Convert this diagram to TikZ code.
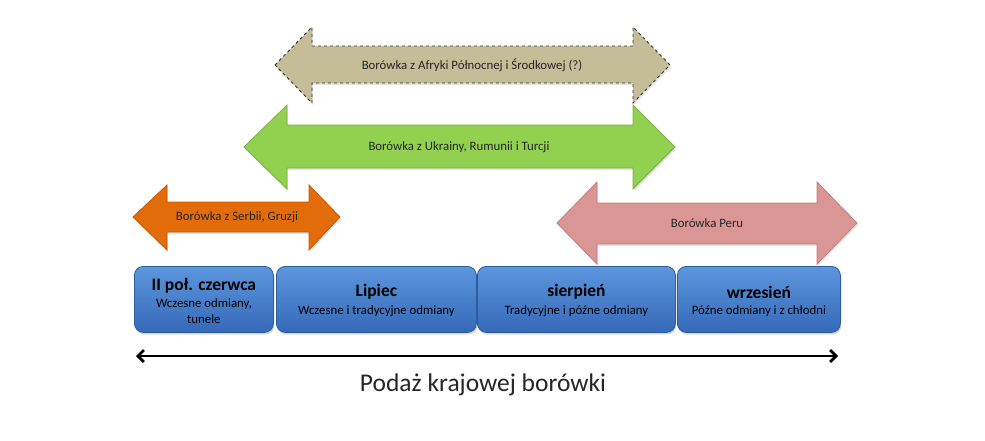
\documentclass[tikz,border=0pt]{standalone}
\usepackage{fontspec}
\setmainfont{Carlito}
\usetikzlibrary{arrows.meta,shadows}
\definecolor{tanfill}{HTML}{C4BD97}
\definecolor{greenfill}{HTML}{92D050}
\definecolor{greenline}{HTML}{7FB048}
\definecolor{orangefill}{HTML}{E36C0A}
\definecolor{orangeline}{HTML}{C55A08}
\definecolor{pinkfill}{HTML}{DA9694}
\definecolor{pinkline}{HTML}{C47F7D}
\definecolor{boxtop}{HTML}{5C96DD}
\definecolor{boxbot}{HTML}{3569B8}
\definecolor{boxline}{HTML}{2B5C9E}
\definecolor{txt}{HTML}{262626}
\begin{document}
\begin{tikzpicture}[x=1pt,y=-1pt,
  lbl/.style={font=\fontsize{12.8}{15}\selectfont, text=txt, inner sep=0pt},
  arrshadow/.style={drop shadow={shadow xshift=1pt, shadow yshift=-2pt, opacity=0.2}},
  month/.style={draw=boxline, line width=0.8pt, rounded corners=9pt,
    top color=boxtop, bottom color=boxbot, minimum height=66pt,
    drop shadow={shadow xshift=1pt, shadow yshift=-2pt, opacity=0.35},
    anchor=north west, inner sep=0pt},
  mtitle/.style={font=\bfseries\fontsize{17.5}{20}\selectfont, text=black, inner sep=0pt},
  msub/.style={font=\fontsize{12.8}{16}\selectfont, text=black, inner sep=0pt, align=center}]
\useasboundingbox (0,0) rectangle (985,440);
\fill[white] (0,0) rectangle (985,440);
% tan arrow
\filldraw[fill=tanfill, draw=black!80, dashed, line width=0.9pt, arrshadow]
  (275,65) -- (312,27) -- (312,46) -- (633,46) -- (633,27) -- (670,65) -- (633,103)
  -- (633,83) -- (312,83) -- (312,103) -- cycle;
\node[lbl] (afr) at (472,65) {Borówka z Afryki Północnej i Środkowej (?)};
% green arrow
\filldraw[fill=greenfill, draw=greenline, line width=0.8pt, arrshadow]
  (244,147) -- (287,105) -- (287,125) -- (633,125) -- (633,105) -- (675,147) -- (633,189)
  -- (633,168) -- (287,168) -- (287,189) -- cycle;
\node[lbl] (ukr) at (459,147) {Borówka z Ukrainy, Rumunii i Turcji};
% orange arrow
\filldraw[fill=orangefill, draw=orangeline, line width=0.8pt, arrshadow]
  (133,217) -- (167,185) -- (167,202) -- (309,202) -- (309,185) -- (340,217) -- (309,250)
  -- (309,232) -- (167,232) -- (167,250) -- cycle;
\node[lbl] (ser) at (237,217) {Borówka z Serbii, Gruzji};
% pink arrow
\filldraw[fill=pinkfill, draw=pinkline, line width=0.8pt, arrshadow]
  (557,223) -- (597,182) -- (597,203) -- (817,203) -- (817,182) -- (857,223) -- (817,264)
  -- (817,244) -- (597,244) -- (597,264) -- cycle;
\node[lbl] (per) at (707,223) {Borówka Peru};
% month boxes
\node[month, minimum width=139pt] (m1) at (134,266) {};
\node[month, minimum width=200pt] (m2) at (276,266) {};
\node[month, minimum width=198pt] (m3) at (477,266) {};
\node[month, minimum width=163pt] (m4) at (677,266) {};
\node[mtitle] (t1) at ([yshift=-20pt]m1.north) {II poł. czerwca};
\node[msub] (s1) at ([yshift=-45pt]m1.north) {Wczesne odmiany,\\tunele};
\node[mtitle] (t2) at ([yshift=-26pt]m2.north) {Lipiec};
\node[msub] (s2) at ([yshift=-45pt]m2.north) {Wczesne i tradycyjne odmiany};
\node[mtitle] (t3) at ([yshift=-26pt]m3.north) {sierpień};
\node[msub] (s3) at ([yshift=-45pt]m3.north) {Tradycyjne i późne odmiany};
\node[mtitle] (t4) at ([yshift=-26pt]m4.north) {wrzesień};
\node[msub] (s4) at ([yshift=-45pt]m4.north) {Późne odmiany i z chłodni};
% bottom axis
\coordinate (al) at (136,356);
\coordinate (ar) at (838,356);
\draw[line width=2.8pt, {Straight Barb[length=6pt,width=12pt]}-{Straight Barb[length=6pt,width=12pt]}] (al) -- (ar);
\node[font=\fontsize{25.5}{28}\selectfont, text=txt, inner sep=0pt] (pod) at (483,385) {Podaż krajowej borówki};
\end{tikzpicture}
\end{document}
